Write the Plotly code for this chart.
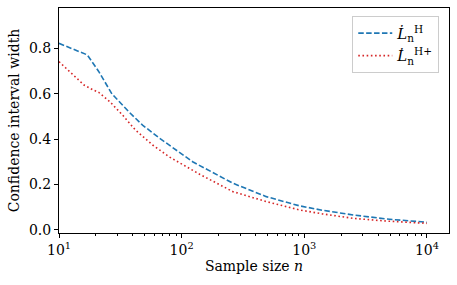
import plotly.graph_objects as go

# Sample sizes and interval widths
n_blue = [10, 17, 21, 27, 37, 48, 66, 90, 123, 262, 490, 920, 1400, 2510, 4710, 10000]
w_blue = [0.823, 0.772, 0.70, 0.60, 0.521, 0.462, 0.404, 0.352, 0.30, 0.205, 0.146, 0.105, 0.086, 0.065, 0.047, 0.033]

n_red = [10, 16, 19, 21, 26, 33, 42, 58, 79, 109, 140, 262, 490, 920, 1400, 2510, 4710, 10000]
w_red = [0.742, 0.639, 0.617, 0.607, 0.565, 0.506, 0.44, 0.374, 0.322, 0.278, 0.245, 0.168, 0.124, 0.087, 0.07, 0.05, 0.038, 0.028]

x_tickvals = [10, 100, 1000, 10000]
x_ticktext = ["10<sup>1</sup>", "10<sup>2</sup>", "10<sup>3</sup>", "10<sup>4</sup>"]
x_minor = [m * d for d in (10, 100, 1000) for m in range(2, 10)] + [20000]
y_tickvals = [0.0, 0.2, 0.4, 0.6, 0.8]

FONT = "DejaVu Serif"

fig = go.Figure()
fig.add_trace(go.Scatter(
    x=n_blue, y=w_blue, mode="lines",
    name="<i>L&#775;</i><sub>n</sub><sup>H</sup>",
    line=dict(color="#1f77b4", width=1.6, dash="5.5px,2.4px"),
))
fig.add_trace(go.Scatter(
    x=n_red, y=w_red, mode="lines",
    name="<i>L&#775;</i><sub>n</sub><sup>H+</sup>",
    line=dict(color="#d62728", width=1.6, dash="1.6px,2.6px"),
))

axis_common = dict(
    showline=True, linecolor="black", linewidth=1, mirror=True,
    ticks="outside", ticklen=4, tickcolor="black", tickwidth=1,
    showgrid=False, zeroline=False, automargin=False,
    tickfont=dict(family=FONT, size=14, color="black"),
)

fig.update_xaxes(
    type="log", range=[1, 4.18],
    tickmode="array", tickvals=x_tickvals, ticktext=x_ticktext,
    minor=dict(tickmode="array", tickvals=x_minor, ticks="outside",
               ticklen=2, tickcolor="black", showgrid=False),
    title=dict(text="Sample size <i>n</i>", font=dict(family=FONT, size=14, color="black"),
               standoff=4),
    **axis_common,
)
fig.update_yaxes(
    range=[-0.0146, 0.979],
    tickmode="array", tickvals=y_tickvals, tickformat=".1f",
    title=dict(text="Confidence interval width", font=dict(family=FONT, size=14, color="black"),
               standoff=6),
    **axis_common,
)

fig.update_layout(
    width=457, height=285,
    margin=dict(l=59, r=8, t=8, b=52),
    paper_bgcolor="white", plot_bgcolor="white",
    font=dict(family=FONT, size=14, color="black"),
    showlegend=True,
    legend=dict(
        x=0.975, y=0.965, xanchor="right", yanchor="top",
        bgcolor="rgba(255,255,255,0.8)", bordercolor="#cccccc", borderwidth=1,
        font=dict(family=FONT, size=15, color="black"),
        tracegroupgap=8, itemwidth=34,
    ),
)

fig.write_html(
    "out.html",
    config={"displayModeBar": False},
    post_script="document.body.style.margin='0';document.body.style.overflow='hidden';",
)
